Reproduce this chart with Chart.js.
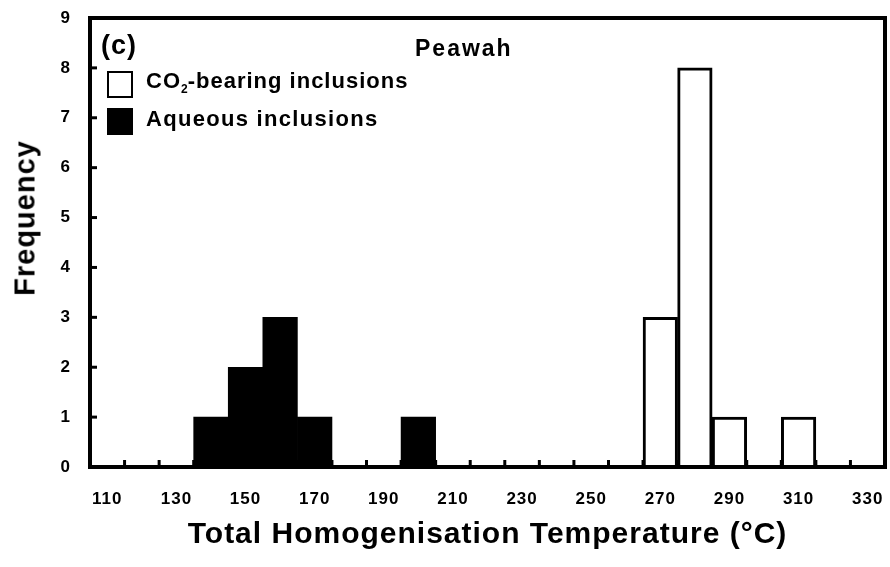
<!DOCTYPE html>
<html>
<head>
<meta charset="utf-8">
<script src="https://cdn.jsdelivr.net/npm/chart.js@4"></script>
<style>
  body { margin: 0; background: #fff; }
  #wrap { position: relative; width: 890px; height: 567px; font-family: "Liberation Sans", Arial, sans-serif; font-weight: bold; color: #000; }
  #chart { position: absolute; left: 0; top: 0; }
  .lbl { position: absolute; white-space: nowrap; letter-spacing: 1px; }
  .box { position: absolute; width: 22px; height: 23px; border: 2px solid #000; box-sizing: content-box; }
  #ytitle { position: absolute; left: 25px; top: 218px; font-size: 29px; transform: translate(-50%, -50%) rotate(-90deg); }
</style>
</head>
<body>
<div id="wrap">
  <canvas id="chart" width="890" height="567"></canvas>
  <div class="lbl" style="left:101px; top:30px; font-size:27px;">(c)</div>
  <div class="lbl" style="left:415px; top:35px; font-size:23px; letter-spacing:2px;">Peawah</div>
  <div class="box" style="left:107px; top:71px; background:#fff;"></div>
  <div class="lbl" style="left:146px; top:68px; font-size:22px;">CO<sub style="font-size:12px; letter-spacing:0;">2</sub>-bearing inclusions</div>
  <div class="box" style="left:107px; top:108px; background:#000;"></div>
  <div class="lbl" style="left:146px; top:106px; font-size:22px; letter-spacing:1.3px;">Aqueous inclusions</div>
  <div class="lbl" id="ytitle">Frequency</div>
</div>
<script>
// Kategorien (Temperatur-Klassen in °C)
const temps = [110, 120, 130, 140, 150, 160, 170, 180, 190, 200, 210, 220,
               230, 240, 250, 260, 270, 280, 290, 300, 310, 320, 330];
// Häufigkeiten
const co2Counts = [0, 0, 0, 0, 0, 0, 0, 0, 0, 0, 0, 0,
                   0, 0, 0, 0, 3, 8, 1, 0, 1, 0, 0];
const aqueousCounts = [0, 0, 0, 1, 2, 3, 1, 0, 0, 1, 0, 0,
                       0, 0, 0, 0, 0, 0, 0, 0, 0, 0, 0];
const yTicks = [0, 1, 2, 3, 4, 5, 6, 7, 8, 9];

// etwas Buchstabenabstand wie im Original
const spacing = {
  id: "spacing",
  beforeDraw(chart) {
    chart.ctx.letterSpacing = "1px";
  },
};

// Rahmen und nach innen zeigende Tickmarken
const frame = {
  id: "frame",
  afterDatasetsDraw(chart) {
    const { ctx, chartArea: a, scales: { x, y } } = chart;
    ctx.save();
    ctx.strokeStyle = "#000";
    ctx.lineWidth = 3;
    for (let i = 1; i < temps.length; i++) {
      const px = (x.getPixelForValue(i - 1) + x.getPixelForValue(i)) / 2;
      ctx.beginPath();
      ctx.moveTo(px, a.bottom);
      ctx.lineTo(px, a.bottom - 7);
      ctx.stroke();
    }
    yTicks.forEach((v) => {
      const py = y.getPixelForValue(v);
      ctx.beginPath();
      ctx.moveTo(a.left, py);
      ctx.lineTo(a.left + 7, py);
      ctx.stroke();
    });
    ctx.lineWidth = 4;
    ctx.strokeRect(a.left, a.top, a.right - a.left, a.bottom - a.top);
    ctx.restore();
  },
};

// unsichtbare Tickmarken als Abstand zu den Beschriftungen
const hiddenGrid = (len) => ({
  display: true,
  drawOnChartArea: false,
  drawTicks: true,
  tickLength: len,
  color: "rgba(0,0,0,0)",
});

const ctx = document.getElementById("chart").getContext("2d");
new Chart(ctx, {
  type: "bar",
  data: {
    labels: temps,
    datasets: [
      {
        label: "Aqueous inclusions",
        data: aqueousCounts,
        backgroundColor: "#000",
        borderWidth: 0,
      },
      {
        label: "CO2-bearing inclusions",
        data: co2Counts,
        backgroundColor: "#fff",
        borderColor: "#000",
        borderWidth: 3,
      },
    ],
  },
  options: {
    responsive: false,
    animation: false,
    layout: { padding: { left: 0, right: 5, top: 18, bottom: 0 } },
    datasets: { bar: { categoryPercentage: 1, barPercentage: 1 } },
    scales: {
      x: {
        stacked: true,
        grid: hiddenGrid(22),
        border: { display: false },
        afterFit: (s) => { s.height = 100; },
        ticks: {
          autoSkip: false,
          maxRotation: 0,
          padding: 0,
          color: "#000",
          font: { family: "Liberation Sans", size: 17, weight: "bold" },
          callback: (val, i) => (i % 2 === 0 ? String(temps[i]) : ""),
        },
        title: {
          display: true,
          text: "Total Homogenisation Temperature (°C)",
          color: "#000",
          font: { family: "Liberation Sans", size: 30, weight: "bold" },
          padding: { top: 0, bottom: 14 },
        },
      },
      y: {
        min: 0,
        max: 9,
        grid: hiddenGrid(19),
        border: { display: false },
        afterFit: (s) => { s.width = 90; },
        ticks: {
          stepSize: 1,
          padding: 0,
          color: "#000",
          font: { family: "Liberation Sans", size: 17, weight: "bold" },
        },
      },
    },
    plugins: {
      legend: { display: false },
      tooltip: { enabled: false },
    },
  },
  plugins: [spacing, frame],
});
</script>
</body>
</html>
